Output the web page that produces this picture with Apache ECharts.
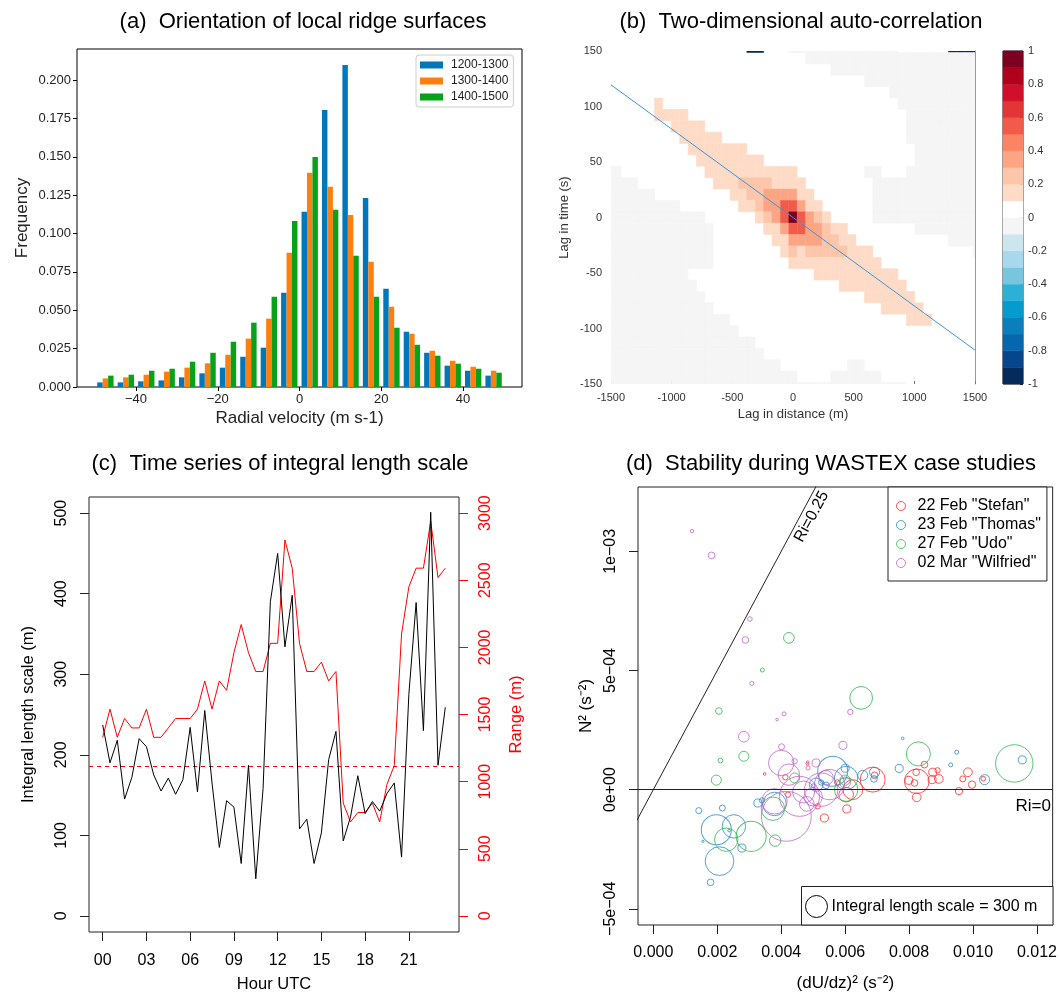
<!DOCTYPE html>
<html><head><meta charset="utf-8">
<script src="https://cdn.jsdelivr.net/npm/echarts@6/dist/echarts.min.js"></script>
<style>html,body{margin:0;padding:0;background:#fff}#c{width:1060px;height:1008px}</style>
</head><body><div id="c"></div>
<script>
// ---------- (a) histogram ----------
const binCenters = [-47.5,-42.5,-37.5,-32.5,-27.5,-22.5,-17.5,-12.5,-7.5,-2.5,2.5,7.5,12.5,17.5,22.5,27.5,32.5,37.5,42.5,47.5];
const freq1200 = [0.0030,0.0030,0.0037,0.0043,0.0063,0.0089,0.0126,0.0197,0.0256,0.0614,0.1141,0.1805,0.2098,0.1232,0.0640,0.0360,0.0223,0.0139,0.0106,0.0074];
const freq1300 = [0.0056,0.0063,0.0080,0.0100,0.0126,0.0154,0.0210,0.0315,0.0445,0.0874,0.1395,0.1304,0.1121,0.0816,0.0523,0.0347,0.0236,0.0171,0.0132,0.0106];
const freq1400 = [0.0074,0.0080,0.0106,0.0119,0.0165,0.0223,0.0295,0.0419,0.0588,0.1082,0.1499,0.1154,0.0855,0.0588,0.0386,0.0275,0.0204,0.0152,0.0119,0.0093];
const histLabels = ['1200-1300','1300-1400','1400-1500'];
const velTicks = [-40,-20,0,20,40];
const freqTicks = [0,0.025,0.05,0.075,0.1,0.125,0.15,0.175,0.2];

// ---------- (b) auto-correlation ----------
const lagDistStep = 69.2;   // m per cell
const lagTimeStep = 10.25;  // s per cell
const lagRows = [15,14,13,12,11,10,9,8,7,6,5,4,3,2,1,0,-1,-2,-3,-4,-5,-6,-7,-8,-9,-10,-11,-12,-13,-14,-15];
// run-length rows, columns from -22 to +22 ; '.'=0..0.1  g=-0.1..0  k=dark  digit d = 0.d..0.d+0.1
const corrRows = [
 "17.,2k,3.,13g,6.,4k",
 "24.,21g",
 "27.,18g",
 "31.,14g",
 "34.,11g",
 "6.,11,28.,10g",
 "6.,41,26.,9g",
 "8.,41,24.,9g",
 "9.,51,22.,9g",
 "10.,71,20.,8g",
 "11.,81,18.,8g",
 "2g,10.,111,8.,2g,3.,9g",
 "4g,9.,31,42,41,8.,13g",
 "6g,9.,21,22,43,21,7.,13g",
 "9g,7.,21,12,23,25,13,21,6.,13g",
 "12g,6.,11,12,13,15,19,15,13,12,11,5.,13g",
 "13g,6.,21,13,25,23,12,21,8.,8g",
 "13g,7.,21,43,22,21,11.,4g",
 "13g,8.,11,12,11,52,31,12.,1g",
 "13g,9.,111,12.",
 "10g,15.,101,10.",
 "11g,17.,81,9.",
 "12g,19.,61,8.",
 "13g,20.,51,7.",
 "15g,21.,31,6.",
 "16g,29.",
 "18g,27.",
 "19g,26.",
 "21g,8.,2g,14.",
 "23g,4.,6g,12.",
 "36g,9."
];
const corrCodeValues = {'.':0.05,'g':-0.05,'k':-0.95,'1':0.15,'2':0.25,'3':0.35,'4':0.45,'5':0.55,'6':0.65,'7':0.75,'8':0.85,'9':0.95};
const corrLevels = [-1,-0.9,-0.8,-0.7,-0.6,-0.5,-0.4,-0.3,-0.2,-0.1,0,0.1,0.2,0.3,0.4,0.5,0.6,0.7,0.8,0.9];
const corrColors = ['#052b5e','#08468c','#0666ae','#0b7fbe','#059bcc','#2cb0d6','#78c5de','#a8d8eb','#cce6f0','#f5f5f5',
                    '#ffffff','#fedbc6','#fdc5aa','#fca584','#fb8563','#f25a4a','#e23535','#d0102a','#b0001e','#7b0022'];
const fitLine = [[-1500,119.5],[1500,-119.5]];
const cbarTicks = [-1,-0.8,-0.6,-0.4,-0.2,0,0.2,0.4,0.6,0.8,1];

// ---------- (c) time series ----------
const hours = [0,0.5,1,1.5,2,2.5,3,3.5,4,4.5,5,5.5,6,6.5,7,7.5,8,8.5,9,9.5,10,10.5,11,11.5,12,12.5,13,13.5,14,14.5,15,15.5,16,16.5,17,17.5,18,18.5,19,19.5,20,20.5,21,21.5,22,22.5,23,23.5];
const lengthScale = [237,190,218,145,172,220,210,175,155,171,151,169,234,154,255,165,85,143,135,65,187,46,158,390,450,334,398,108,120,65,103,194,229,93,123,174,127,142,130,152,165,73,275,389,230,501,187,259];
const rangeM = [1330,1540,1330,1470,1400,1400,1540,1330,1330,1400,1470,1470,1470,1540,1750,1540,1750,1680,1960,2170,1960,1820,1820,2030,2030,2800,2590,2030,1820,1820,1890,1750,1820,840,700,770,770,840,700,980,1120,2100,2450,2590,2590,2940,2520,2590];
const rangeThreshold = 1120;
const hourTicks = [0,3,6,9,12,15,18,21];
const lengthTicks = [0,100,200,300,400,500];
const rangeTicks = [0,500,1000,1500,2000,2500,3000];
const hourExtent = [-0.94, 24.44];

// ---------- (d) stability ----------
const caseNames = ['22 Feb "Stefan"','23 Feb "Thomas"','27 Feb "Udo"','02 Mar "Wilfried"'];
// [ (dU/dz)^2 , N^2 , integral length scale (m) ]
const stefan = [
 [0.00686,0.000042,340],[0.00692,0.000060,91],[0.00624,0.000000,270],[0.00603,-0.000021,200],[0.00605,-0.000081,110],
 [0.00535,-0.000119,110],[0.00514,-0.000070,73],[0.00421,-0.000021,73],[0.00413,0.000052,73],[0.00348,0.000066,36],
 [0.00482,0.000109,40],[0.00824,0.000035,336],[0.00799,0.000039,110],[0.00817,0.000028,91],[0.00822,0.000073,91],
 [0.00848,0.000105,91],[0.00874,0.000073,110],[0.00889,0.000081,73],[0.00893,0.000045,119],[0.00872,0.000042,110],
 [0.00824,-0.000032,119],[0.00984,0.000073,119],[0.00968,0.000045,82],[0.00997,0.000021,100],[0.00956,-0.000006,100],
 [0.01032,0.000046,64],[0.00575,0.000030,73]
];
const thomas = [
 [0.00780,0.000215,36],[0.00949,0.000157,55],[0.00930,0.000104,55],[0.01154,0.000125,110],[0.00769,0.000089,110],
 [0.01036,0.000042,137],[0.00692,0.000073,137],[0.00690,0.000045,91],[0.00561,0.000077,410],[0.00603,0.000049,319],
 [0.00509,0.000021,182],[0.00525,0.000030,73],[0.00500,0.000016,55],[0.00540,0.000018,91],[0.00655,0.000060,137],
 [0.00327,-0.000056,110],[0.00340,-0.000045,73],[0.00142,-0.000088,82],[0.00216,-0.000077,82],[0.00197,-0.000168,410],
 [0.00252,-0.000154,319],[0.00237,-0.000172,36],[0.00155,-0.000217,30],[0.00277,-0.000245,110],[0.00207,-0.000300,391],
 [0.00179,-0.000389,91],[0.00379,-0.000060,320],[0.00600,0.000090,110]
];
const udo = [
 [0.00424,0.000637,146],[0.00341,0.000502,55],[0.00650,0.000385,310],[0.00205,0.000330,91],[0.00283,0.000140,137],
 [0.00210,0.000122,64],[0.00197,0.000040,137],[0.00829,0.000150,328],[0.01129,0.000110,510],[0.00374,-0.000080,319],
 [0.00306,-0.000196,410],[0.00228,-0.000210,319],[0.00381,-0.000214,155],[0.00603,0.000000,319],[0.00442,0.000049,137],
 [0.00600,0.000040,140]
];
const wilfried = [
 [0.00121,0.001085,46],[0.00182,0.000983,91],[0.00302,0.000716,64],[0.00288,0.000628,91],[0.00308,0.000446,55],
 [0.00409,0.000318,55],[0.00387,0.000294,36],[0.00616,0.000326,73],[0.00283,0.000222,146],[0.00593,0.000186,110],
 [0.00401,0.000180,82],[0.00400,0.000112,346],[0.00424,0.000063,292],[0.00442,0.000119,73],[0.00483,0.000116,36],
 [0.00484,0.000091,55],[0.00509,0.000112,110],[0.00416,-0.000112,680],[0.00457,-0.000028,546],[0.00525,0.000000,455],
 [0.00379,-0.000049,346],[0.00551,0.000021,410],[0.00470,-0.000010,300],[0.00500,-0.000030,250],[0.00540,0.000050,200],
 [0.00600,0.000030,150],[0.00480,-0.000060,200]
];
const shearTicks = [0,0.002,0.004,0.006,0.008,0.010,0.012];
const n2Ticks = [-0.0005,0,0.0005,0.001];
const riCritical = 0.25;
const lengthRef = 300;

// ---------- styling ----------
const FONT = '"Liberation Sans", Arial, Helvetica, sans-serif';
const histColors = ['#0077bb','#ff7f0e','#07a11a'];
const caseColors = ['#ff2a2a','#2a8bd0','#2db84a','#c265cc'];
const refDiameter = 22;

// build heatmap cells
const heatData = [];
corrRows.forEach((rle, ri) => {
  let chars = '';
  rle.split(',').forEach(tok => { const ch = tok.slice(-1); const n = parseInt(tok.slice(0, -1), 10); chars += ch.repeat(n); });
  for (let i = 0; i < chars.length; i++) {
    const ch = chars[i];
    if (ch === '.') continue;
    heatData.push([(i - 22) * lagDistStep, lagRows[ri] * lagTimeStep, corrCodeValues[ch]]);
  }
});
function corrColor(v) {
  let k = Math.floor((v + 1) / 0.1 + 1e-9);
  k = Math.max(0, Math.min(corrColors.length - 1, k));
  return corrColors[k];
}

function histSeries(k, vals) {
  const w = 4 / 3;
  return {
    type: 'custom', name: histLabels[k], xAxisIndex: 0, yAxisIndex: 0,
    itemStyle: { color: histColors[k] },
    data: binCenters.map((c, i) => [c, vals[i]]),
    encode: { x: 0, y: 1 },
    renderItem: (p, api) => {
      const c = api.value(0), v = api.value(1);
      const x0 = c - 2 + k * w;
      const a = api.coord([x0, v]);
      const b = api.coord([x0 + w, 0]);
      return { type: 'rect', shape: { x: a[0], y: a[1], width: b[0] - a[0], height: b[1] - a[1] }, style: { fill: histColors[k] } };
    }
  };
}

function sciLabel(v) {
  if (Math.abs(v) < 1e-12) return '0e+00';
  const e = Math.floor(Math.log10(Math.abs(v)) + 1e-9);
  const m = Math.round(v / Math.pow(10, e));
  return (m < 0 ? '\u2212' : '') + Math.abs(m) + 'e\u2212' + String(-e).padStart(2, '0');
}

function caseSeries(k, data) {
  return {
    type: 'scatter', name: caseNames[k], xAxisIndex: 4, yAxisIndex: 6,
    data: data, symbol: 'circle',
    symbolSize: d => d[2] / lengthRef * refDiameter,
    itemStyle: { color: 'rgba(0,0,0,0)', borderColor: caseColors[k], borderWidth: 1 },
    emphasis: { disabled: true }, z: 3
  };
}

const titleStyle = { fontSize: 22, fontWeight: 'normal', color: '#000', fontFamily: FONT };
const noLine = { show: false, onZero: false };

const option = {
  animation: false,
  backgroundColor: '#fff',
  textStyle: { fontFamily: FONT },
  title: [
    { text: '(a)  Orientation of local ridge surfaces', left: 298, top: 6, textAlign: 'center', textStyle: titleStyle },
    { text: '(b)  Two-dimensional auto-correlation', left: 796, top: 6, textAlign: 'center', textStyle: titleStyle },
    { text: '(c)  Time series of integral length scale', left: 275, top: 448, textAlign: 'center', textStyle: titleStyle },
    { text: '(d)  Stability during WASTEX case studies', left: 826, top: 448, textAlign: 'center', textStyle: titleStyle }
  ],
  grid: [
    { left: 77, top: 49, width: 445, height: 338, show: true, borderColor: '#000', borderWidth: 1, backgroundColor: 'rgba(0,0,0,0)' },
    { left: 611, top: 51, width: 364, height: 333 },
    { left: 1003, top: 51, width: 20, height: 333, show: true, borderColor: '#222', borderWidth: 1, backgroundColor: 'rgba(0,0,0,0)' },
    { left: 89, top: 497, width: 370, height: 435, show: true, borderColor: '#222', borderWidth: 1, backgroundColor: 'rgba(0,0,0,0)' },
    { left: 638, top: 487, width: 415, height: 438, show: true, borderColor: '#222', borderWidth: 1, backgroundColor: 'rgba(0,0,0,0)' }
  ],
  legend: [
    {
      data: histLabels.map((n, i) => ({ name: n, icon: 'rect', itemStyle: { color: histColors[i] } })),
      orient: 'vertical', left: 416, top: 55, itemWidth: 23, itemHeight: 7, itemGap: 4,
      padding: [4, 5, 4, 4], borderColor: '#ccc', borderWidth: 1, borderRadius: 3, backgroundColor: 'rgba(255,255,255,0.85)',
      textStyle: { fontSize: 12, color: '#222', padding: [0, 0, 0, 3], fontFamily: FONT }, selectedMode: false
    },
    {
      data: caseNames.map((n, i) => ({ name: n, icon: 'circle', itemStyle: { color: 'rgba(0,0,0,0)', borderColor: caseColors[i], borderWidth: 1 } })),
      orient: 'vertical', left: 888, top: 487, itemWidth: 9, itemHeight: 9, itemGap: 3,
      padding: [11, 6, 10, 8], borderColor: '#222', borderWidth: 1, backgroundColor: '#fff',
      textStyle: { fontSize: 16, color: '#000', padding: [0, 0, 0, 7], fontFamily: FONT }, selectedMode: false
    }
  ],
  xAxis: [
    { gridIndex: 0, type: 'value', min: -54.45, max: 54.45,
      axisLine: noLine, splitLine: { show: false },
      axisTick: { show: true, length: 4, customValues: velTicks, lineStyle: { color: '#000' } },
      axisLabel: { customValues: velTicks, formatter: v => v < 0 ? '\u2212' + Math.abs(v) : String(v), fontSize: 13, color: '#222', margin: 6 },
      name: 'Radial velocity (m s-1)', nameLocation: 'middle', nameGap: 23, nameTextStyle: { fontSize: 17, color: '#222' } },
    { gridIndex: 1, type: 'value', min: -1500, max: 1500, interval: 500,
      axisLine: noLine, splitLine: { show: false },
      axisTick: { show: true, inside: true, length: 3, lineStyle: { color: '#777' } },
      axisLabel: { fontSize: 11, color: '#333', margin: 8, formatter: v => String(v) },
      name: 'Lag in distance (m)', nameLocation: 'middle', nameGap: 24, nameTextStyle: { fontSize: 13, color: '#333' } },
    { gridIndex: 2, type: 'value', min: 0, max: 1, show: false, axisLine: noLine },
    { gridIndex: 3, type: 'value', min: hourExtent[0], max: hourExtent[1],
      axisLine: noLine, splitLine: { show: false },
      axisTick: { show: true, length: 9, customValues: hourTicks, lineStyle: { color: '#222' } },
      axisLabel: { customValues: hourTicks, formatter: v => String(v).padStart(2, '0'), fontSize: 16, color: '#000', margin: 21 },
      name: 'Hour UTC', nameLocation: 'middle', nameGap: 44, nameTextStyle: { fontSize: 16.5, color: '#000' } },
    { gridIndex: 4, type: 'value', min: -0.00048, max: 0.01249,
      axisLine: noLine, splitLine: { show: false },
      axisTick: { show: true, length: 9, customValues: shearTicks, lineStyle: { color: '#222' } },
      axisLabel: { customValues: shearTicks, formatter: v => v.toFixed(3), fontSize: 16, color: '#000', margin: 20 },
      name: '(dU/dz)\u00b2 (s\u207b\u00b2)', nameLocation: 'middle', nameGap: 50, nameTextStyle: { fontSize: 17, color: '#000' } }
  ],
  yAxis: [
    { gridIndex: 0, type: 'value', min: 0, max: 0.2202,
      axisLine: noLine, splitLine: { show: false },
      axisTick: { show: true, length: 4, customValues: freqTicks, lineStyle: { color: '#000' } },
      axisLabel: { customValues: freqTicks, formatter: v => v.toFixed(3), fontSize: 13, color: '#222', margin: 6 },
      name: 'Frequency', nameLocation: 'middle', nameGap: 46, nameTextStyle: { fontSize: 17, color: '#222' } },
    { gridIndex: 1, type: 'value', min: -150, max: 150, interval: 50,
      axisLine: noLine, splitLine: { show: false }, axisTick: { show: false },
      axisLabel: { fontSize: 11, color: '#333', margin: 9, formatter: v => String(v) },
      name: 'Lag in time (s)', nameLocation: 'middle', nameGap: 40, nameTextStyle: { fontSize: 13, color: '#333' } },
    { gridIndex: 1, type: 'value', min: -150, max: 150, position: 'right',
      axisLine: { show: true, onZero: false, lineStyle: { color: '#9a9a9a', width: 1 } },
      axisTick: { show: false }, axisLabel: { show: false }, splitLine: { show: false } },
    { gridIndex: 2, type: 'value', min: -1, max: 1, position: 'right',
      axisLine: noLine, splitLine: { show: false },
      axisTick: { show: true, inside: true, length: 3, customValues: cbarTicks, lineStyle: { color: '#222' } },
      axisLabel: { customValues: cbarTicks, formatter: v => String(Math.round(v * 10) / 10), fontSize: 11, color: '#333', margin: 5 } },
    { gridIndex: 3, type: 'value', min: -20, max: 520, position: 'left',
      axisLine: noLine, splitLine: { show: false },
      axisTick: { show: true, length: 9, customValues: lengthTicks, lineStyle: { color: '#222' } },
      axisLabel: { customValues: lengthTicks, rotate: 90, fontSize: 16, color: '#000', margin: 19, formatter: v => String(v) },
      name: 'Integral length scale (m)', nameLocation: 'middle', nameGap: 52, nameTextStyle: { fontSize: 16.5, color: '#000' } },
    { gridIndex: 3, type: 'value', min: -120, max: 3120, position: 'right',
      axisLine: noLine, splitLine: { show: false },
      axisTick: { show: true, length: 9, customValues: rangeTicks, lineStyle: { color: '#ff0000' } },
      axisLabel: { customValues: rangeTicks, rotate: 90, fontSize: 16, color: '#ff0000', margin: 19, formatter: v => String(v) },
      name: 'Range (m)', nameLocation: 'middle', nameGap: 49, nameTextStyle: { fontSize: 16.5, color: '#ff0000' } },
    { gridIndex: 4, type: 'value', min: -0.000568, max: 0.00127,
      axisLine: noLine, splitLine: { show: false },
      axisTick: { show: true, length: 9, customValues: n2Ticks, lineStyle: { color: '#222' } },
      axisLabel: { customValues: n2Ticks, rotate: 90, formatter: sciLabel, fontSize: 16, color: '#000', margin: 19 },
      name: 'N\u00b2 (s\u207b\u00b2)', nameLocation: 'middle', nameGap: 43, nameTextStyle: { fontSize: 17, color: '#000' } }
  ],
  series: [
    histSeries(0, freq1200),
    histSeries(1, freq1300),
    histSeries(2, freq1400),
    {
      type: 'custom', name: 'corr', xAxisIndex: 1, yAxisIndex: 1, clip: true,
      data: heatData, encode: { x: 0, y: 1 },
      renderItem: (p, api) => {
        const x = api.value(0), y = api.value(1), v = api.value(2);
        const a = api.coord([x - lagDistStep / 2, y + lagTimeStep / 2]);
        const b = api.coord([x + lagDistStep / 2, y - lagTimeStep / 2]);
        const col = corrColor(v);
        return { type: 'rect', shape: { x: a[0], y: a[1], width: b[0] - a[0], height: b[1] - a[1] },
                 style: { fill: col, stroke: col, lineWidth: 0.5 } };
      }
    },
    { type: 'line', name: 'fit', xAxisIndex: 1, yAxisIndex: 1, data: fitLine, symbol: 'none',
      itemStyle: { color: '#3f95d8' }, lineStyle: { color: '#3f95d8', width: 1 }, z: 5 },
    {
      type: 'custom', name: 'cbar', xAxisIndex: 2, yAxisIndex: 3,
      data: corrLevels.map(l => [0, l]), encode: { x: 0, y: 1 },
      renderItem: (p, api) => {
        const lo = api.value(1);
        const a = api.coord([0, lo + 0.1]);
        const b = api.coord([1, lo]);
        const col = corrColor(lo + 0.05);
        return { type: 'rect', shape: { x: a[0], y: a[1], width: b[0] - a[0], height: b[1] - a[1] },
                 style: { fill: col, stroke: col, lineWidth: 0.5 } };
      }
    },
    { type: 'custom', name: 'threshold', xAxisIndex: 3, yAxisIndex: 5, z: 1,
      data: [[hourExtent[0], rangeThreshold, hourExtent[1]]], encode: { x: 0, y: 1 },
      renderItem: (p, api) => {
        const a = api.coord([api.value(0), api.value(1)]);
        const b = api.coord([api.value(2), api.value(1)]);
        const yy = Math.round(a[1]) + 0.5;
        return { type: 'line', shape: { x1: a[0], y1: yy, x2: b[0], y2: yy },
                 style: { stroke: '#ff0000', lineWidth: 1, lineDash: [4, 4], fill: null } };
      }
    },
    { type: 'line', name: 'length', xAxisIndex: 3, yAxisIndex: 4, symbol: 'none', z: 3,
      data: hours.map((h, i) => [h, lengthScale[i]]), itemStyle: { color: '#000' }, lineStyle: { color: '#000', width: 1 } },
    { type: 'line', name: 'range', xAxisIndex: 3, yAxisIndex: 5, symbol: 'none', z: 2,
      data: hours.map((h, i) => [h, rangeM[i]]), itemStyle: { color: '#ff0000' }, lineStyle: { color: '#ff0000', width: 1 } },
    { type: 'line', name: 'ri', xAxisIndex: 4, yAxisIndex: 6, symbol: 'none',
      data: [[-0.001, -0.001 * riCritical], [0.006, 0.006 * riCritical]],
      itemStyle: { color: '#222' }, lineStyle: { color: '#222', width: 1 },
      markLine: { silent: true, symbol: 'none', label: { show: false },
                  lineStyle: { color: '#222', type: 'solid', width: 1 }, data: [{ yAxis: 0 }] } },
    caseSeries(0, stefan),
    caseSeries(1, thomas),
    caseSeries(2, udo),
    caseSeries(3, wilfried)
  ],
  graphic: [
    { type: 'rect', shape: { x: 801.5, y: 886.5, width: 251.5, height: 38.5 }, style: { fill: '#fff', stroke: '#222', lineWidth: 1 }, z: 100 },
    { type: 'circle', shape: { cx: 816.5, cy: 906.5, r: refDiameter / 2 }, style: { fill: 'none', stroke: '#000', lineWidth: 1 }, z: 101 },
    { type: 'text', x: 831.5, y: 906.5, style: { text: 'Integral length scale = ' + lengthRef + ' m', font: '16px ' + FONT, fill: '#000', align: 'left', verticalAlign: 'middle' }, z: 101 },
    { type: 'text', x: 811.7, y: 516.7, rotation: 1.075, style: { text: 'Ri=0.25', font: '16px ' + FONT, fill: '#000', align: 'center', verticalAlign: 'middle' }, z: 101 },
    { type: 'text', x: 1051, y: 806, style: { text: 'Ri=0', font: '17px ' + FONT, fill: '#000', align: 'right', verticalAlign: 'middle' }, z: 101 }
  ]
};

const chart = echarts.init(document.getElementById('c'), null, { renderer: 'canvas', width: 1060, height: 1008 });
chart.setOption(option);
</script>
</body></html>
